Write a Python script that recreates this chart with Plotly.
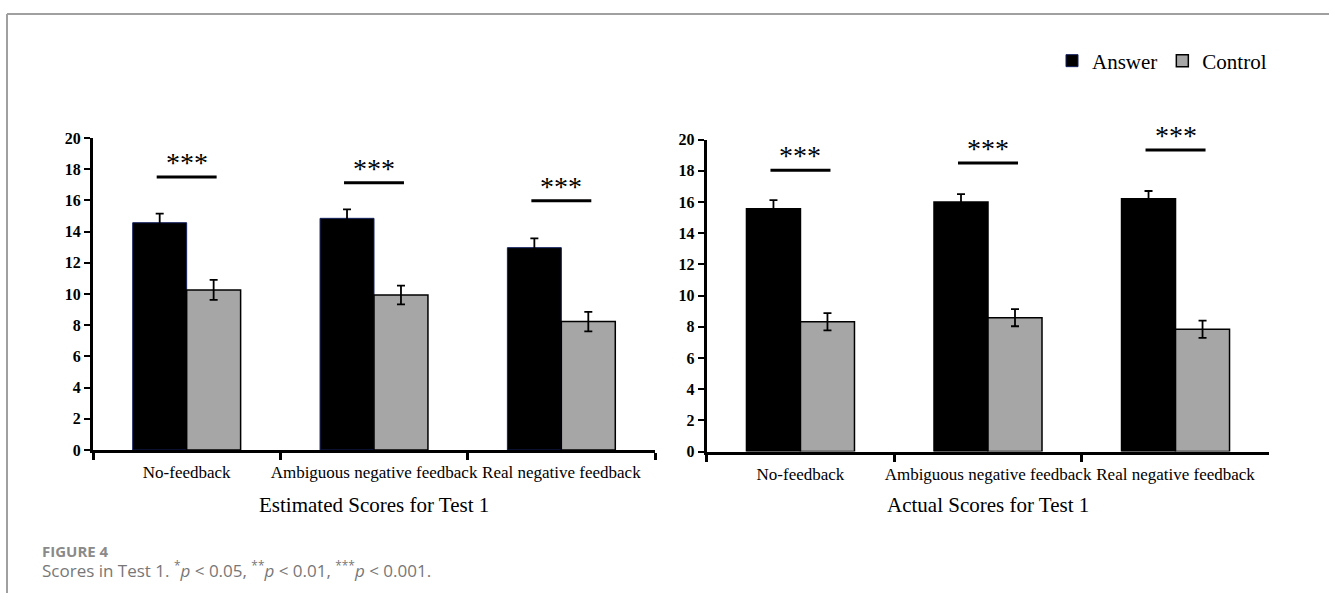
import plotly.graph_objects as go

# Category labels and group names
categories = ["No-feedback", "Ambiguous negative feedback", "Real negative feedback"]
series_names = ["Answer", "Control"]

# Estimated scores for Test 1 (means and standard errors)
est_answer = [14.57, 14.85, 12.97]
est_answer_err = [0.58, 0.58, 0.60]
est_control = [10.26, 9.94, 8.23]
est_control_err = [0.64, 0.60, 0.62]
est_sig_y = [17.5, 17.13, 15.98]

# Actual scores for Test 1 (means and standard errors)
act_answer = [15.56, 16.0, 16.2]
act_answer_err = [0.55, 0.50, 0.50]
act_control = [8.32, 8.58, 7.84]
act_control_err = [0.55, 0.55, 0.55]
act_sig_y = [18.03, 18.5, 19.32]

sig_label = "***"
y_ticks = list(range(0, 21, 2))
panel_titles = ["Estimated Scores for Test 1", "Actual Scores for Test 1"]

W, H = 1329, 601
SERIF = "Liberation Serif, Times New Roman, serif"
SANS = "Open Sans, Lato, sans-serif"
ANSWER_COLOR = "#000000"
CONTROL_COLOR = "#a6a6a6"


def px_x(p):
    return p / W


def px_y(p):
    return 1 - p / H


fig = go.Figure()

panels = [
    dict(x="x", y="y", answer=est_answer, answer_err=est_answer_err,
         control=est_control, control_err=est_control_err, sig=est_sig_y,
         answer_line="#14215e", answer_lw=1.0, legend=True),
    dict(x="x2", y="y2", answer=act_answer, answer_err=act_answer_err,
         control=act_control, control_err=act_control_err, sig=act_sig_y,
         answer_line="#000000", answer_lw=1.5, legend=False),
]

for p in panels:
    fig.add_trace(go.Bar(
        x=categories, y=p["answer"], name=series_names[0],
        xaxis=p["x"], yaxis=p["y"], offsetgroup="a",
        marker=dict(color=ANSWER_COLOR, line=dict(color=p["answer_line"], width=p["answer_lw"])),
        error_y=dict(type="data", array=p["answer_err"], color="black", thickness=1.8, width=4),
        showlegend=p["legend"], legendgroup="a",
    ))
    fig.add_trace(go.Bar(
        x=categories, y=p["control"], name=series_names[1],
        xaxis=p["x"], yaxis=p["y"], offsetgroup="c",
        marker=dict(color=CONTROL_COLOR, line=dict(color="black", width=1.5)),
        error_y=dict(type="data", array=p["control_err"], color="black", thickness=1.8, width=4),
        showlegend=p["legend"], legendgroup="c",
    ))
    # significance bars with stars above them
    for i, yv in enumerate(p["sig"]):
        fig.add_shape(type="line", xref=p["x"], yref=p["y"],
                      x0=i - 0.16, x1=i + 0.16, y0=yv, y1=yv,
                      line=dict(color="black", width=3))
        fig.add_annotation(x=i, y=yv, xref=p["x"], yref=p["y"], text=sig_label,
                           showarrow=False, yanchor="bottom", yshift=-3,
                           font=dict(family=SERIF, size=28, color="black"))

xaxis_common = dict(
    type="category", showline=True, linewidth=3, linecolor="black",
    ticks="outside", tickson="boundaries", ticklen=7, tickwidth=3, tickcolor="black",
    tickfont=dict(family=SERIF, size=17, color="black"), tickangle=0, ticklabelstandoff=5,
    showgrid=False, zeroline=False, range=[-0.5, 2.5], automargin=False,
)
yaxis_common = dict(
    range=[0, 20], tickvals=y_ticks, showline=True, linewidth=3, linecolor="black",
    ticks="outside", ticklen=6, tickwidth=2, tickcolor="black",
    tickfont=dict(family=SERIF, size=16, color="black", weight="bold"),
    showgrid=False, zeroline=False, automargin=False,
)

fig.update_layout(
    width=W, height=H,
    margin=dict(l=0, r=0, t=0, b=0, autoexpand=False),
    paper_bgcolor="white", plot_bgcolor="white",
    barmode="group", bargap=0.424, bargroupgap=0,
    xaxis=dict(domain=[px_x(93), px_x(655)], anchor="y", **xaxis_common),
    yaxis=dict(domain=[px_y(450), px_y(138)], anchor="x", **yaxis_common),
    xaxis2=dict(domain=[px_x(706.7), px_x(1269.3)], anchor="y2", **xaxis_common),
    yaxis2=dict(domain=[px_y(451.5), px_y(139.5)], anchor="x2", **yaxis_common),
    legend=dict(orientation="h", x=px_x(1272), xanchor="right", y=px_y(61), yanchor="middle",
                font=dict(family=SERIF, size=21, color="black"),
                bgcolor="rgba(0,0,0,0)", itemclick=False),
    showlegend=True,
)

# panel titles
for title, (x0, x1) in zip(panel_titles, [(93, 655), (706.7, 1269.3)]):
    fig.add_annotation(x=px_x((x0 + x1) / 2), y=px_y(505), xref="paper", yref="paper",
                       text=title, showarrow=False, xanchor="center", yanchor="middle",
                       font=dict(family=SERIF, size=21, color="black"))

# figure caption
fig.add_annotation(x=px_x(40), y=px_y(551), xref="paper", yref="paper",
                   text="<b>FIGURE 4</b>", showarrow=False, xanchor="left", yanchor="middle",
                   font=dict(family=SANS, size=15, color="#8a8a8a"))
fig.add_annotation(x=px_x(40), y=px_y(569), xref="paper", yref="paper",
                   text="Scores in Test 1. <sup>*</sup><i>p</i> &lt; 0.05, <sup>**</sup><i>p</i> &lt; 0.01, "
                        "<sup>***</sup><i>p</i> &lt; 0.001.",
                   showarrow=False, xanchor="left", yanchor="middle",
                   font=dict(family=SANS, size=17, color="#777777"))

# page frame
fig.add_shape(type="line", xref="paper", yref="paper", x0=px_x(7), x1=1, y0=px_y(14), y1=px_y(14),
              line=dict(color="#a0a0a0", width=2))
fig.add_shape(type="line", xref="paper", yref="paper", x0=px_x(7), x1=px_x(7), y0=px_y(14), y1=px_y(593),
              line=dict(color="#a0a0a0", width=2))

fig.write_html("out.html")
